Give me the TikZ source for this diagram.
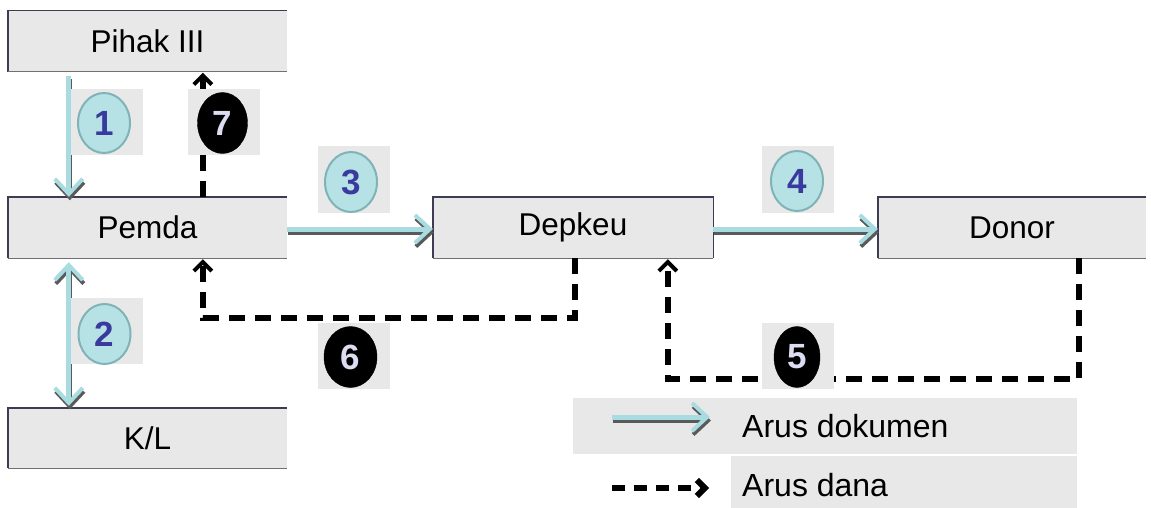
\documentclass[tikz,border=0pt]{standalone}
\usepackage{fontspec}
\setmainfont{Liberation Sans}
\usetikzlibrary{arrows.meta,shapes.geometric,calc}
\definecolor{boxfill}{HTML}{E8E8E8}
\definecolor{boxline}{HTML}{3C3C52}
\definecolor{boxlow}{HTML}{707070}
\definecolor{doccyan}{HTML}{A8DCE0}
\definecolor{shadowgray}{HTML}{5A5A5A}
\definecolor{badgecyan}{HTML}{B6E2E5}
\definecolor{badgeedge}{HTML}{7FB3B6}
\definecolor{digitblue}{HTML}{3A3A9E}
\definecolor{digitlight}{HTML}{DCDCF2}
\begin{document}
\begin{tikzpicture}[x=1pt,y=-1pt,
  boxnode/.style={fill=boxfill, minimum height=61pt, inner sep=0pt, font=\fontsize{31.5}{36}\selectfont},
  topleft/.style={draw=boxline, line width=1.4pt},
  lowedge/.style={draw=boxlow, line width=1.4pt},
  docarrow/.style={draw=doccyan, line width=5pt,
    preaction={draw=shadowgray, line width=4pt, transform canvas={shift={(1pt,-3.5pt)}}}},
  doctip/.style={-{Straight Barb[length=15pt,width=28pt,line width=4pt]}},
  doctips/.style={{Straight Barb[length=15pt,width=28pt,line width=4pt]}-{Straight Barb[length=15pt,width=28pt,line width=4pt]}},
  danaline/.style={draw=black, line width=6pt, dash pattern=on 16pt off 10pt,
    -{Straight Barb[length=9pt,width=18pt,line width=4pt]}},
  badgebg/.style={fill=boxfill, minimum width=72pt, minimum height=66pt, inner sep=0pt},
  badgelight/.style={ellipse, fill=badgecyan, draw=badgeedge, line width=2pt, minimum width=52pt, minimum height=60pt, inner sep=0pt, text=digitblue, font=\fontsize{35}{35}\selectfont\bfseries},
  badgedark/.style={ellipse, fill=black, draw=black, minimum width=50pt, minimum height=61pt, inner sep=0pt, text=digitlight, font=\fontsize{35}{35}\selectfont\bfseries},
  legendbg/.style={fill=boxfill, inner sep=0pt, anchor=north west},
  legendtext/.style={anchor=base west, inner sep=0pt, font=\fontsize{32}{36}\selectfont}
]
\useasboundingbox (0,0) rectangle (1151,508);
\fill[white] (0,0) rectangle (1151,508);

% boxes
\node[boxnode, minimum width=279pt] (pihak) at (147.5,41) {Pihak III};
\node[boxnode, minimum width=279pt] (pemda) at (147.5,227.5) {Pemda};
\node[boxnode, minimum width=279pt, minimum height=60pt] (kl) at (147.5,438) {K/L};
\node[boxnode, minimum width=280pt] (depkeu) at (573,227.5) {Depkeu};
\node[boxnode, minimum width=268pt] (donor) at (1012,227.5) {Donor};

\foreach \b in {pihak,pemda,kl,donor}{
  \draw[topleft] (\b.north east) -- (\b.north west) -- (\b.south west);
  \draw[lowedge] (\b.south west) -- (\b.south east);
}
\draw[topleft] (depkeu.south east) -- (depkeu.north east) -- (depkeu.north west) -- (depkeu.south west);
\draw[lowedge] (depkeu.south west) -- (depkeu.south east);

% document flows
\draw[docarrow, doctip] ([xshift=61pt,yshift=-4pt]pihak.south west) -- ([xshift=61pt]pemda.north west);
\draw[docarrow, doctips] ([xshift=61pt,yshift=-4pt]pemda.south west) -- ([xshift=61pt,yshift=2pt]kl.north west);
\draw[docarrow, doctip] ([yshift=-1.5pt]pemda.east) -- ([yshift=-1.5pt]depkeu.west);
\draw[docarrow, doctip] ([yshift=-1.5pt]depkeu.east) -- ([yshift=-1.5pt]donor.west);

% fund flows
\draw[danaline] ([xshift=195pt]pemda.north west) -- ([xshift=195pt,yshift=-1pt]pihak.south west);
\draw[danaline] ([xshift=142pt]depkeu.south west) -- ++(0,60) -| ([xshift=195pt,yshift=-1pt]pemda.south west);
\draw[danaline] ([xshift=201pt]donor.south west) -- ++(0,121) -| ([xshift=235pt,yshift=-1pt]depkeu.south west);

% badges
\node[badgebg] (bg1) at (106.5,122) {};
\node[badgelight] (b1) at (104,123) {1};
\node[badgebg] (bg7) at (223.5,122) {};
\node[badgedark] (b7) at (222.5,123) {7};
\node[badgebg] (bg3) at (353.5,179.5) {};
\node[badgelight] (b3) at (351,182) {3};
\node[badgebg] (bg4) at (797.5,179.5) {};
\node[badgelight] (b4) at (797,181) {4};
\node[badgebg] (bg2) at (106.5,330.5) {};
\node[badgelight] (b2) at (104.5,334) {2};
\node[badgebg] (bg6) at (353.5,355.5) {};
\node[badgedark, minimum width=53pt] (b6) at (350.5,357) {6};
\node[badgebg] (bg5) at (797.5,356) {};
\node[badgedark, minimum width=46pt] (b5) at (797,357) {5};

% legend
\node[legendbg, minimum width=504pt, minimum height=56pt] (leg1) at (573,398) {};
\node[legendbg, minimum width=346pt, minimum height=52pt] (leg2) at (731,456) {};
\node[legendtext] (legt1) at (742,437) {Arus dokumen};
\node[legendtext] (legt2) at (742,496) {Arus dana};
\coordinate (l1a) at (612,417);
\coordinate (l1b) at (710,417);
\coordinate (l2a) at (612,488);
\coordinate (l2b) at (709,488);
\draw[docarrow, -{Straight Barb[length=15pt,width=28pt,line width=4pt]}] (l1a) -- (l1b);
\draw[draw=black, line width=6pt, dash pattern=on 13pt off 9pt, -{Straight Barb[length=8pt,width=16pt,line width=6pt]}] (l2a) -- (l2b);
\end{tikzpicture}
\end{document}
